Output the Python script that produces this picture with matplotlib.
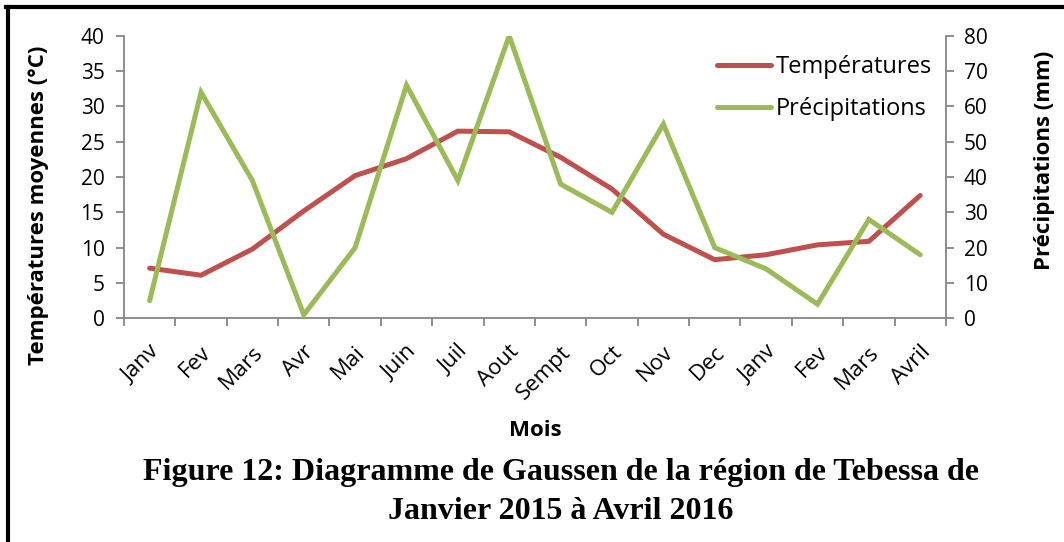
import matplotlib
matplotlib.use("Agg")
import matplotlib.pyplot as plt
from matplotlib.lines import Line2D
from matplotlib.transforms import ScaledTranslation
import numpy as np

# --- data ------------------------------------------------------------------
mois = ["Janv", "Fev", "Mars", "Avr", "Mai", "Juin", "Juil", "Aout", "Sempt",
        "Oct", "Nov", "Dec", "Janv", "Fev", "Mars", "Avril"]
temperatures = [7.1, 6.1, 9.8, 15.2, 20.2, 22.6, 26.5, 26.4, 22.8,
                18.3, 11.9, 8.3, 9.0, 10.4, 10.9, 17.4]
precipitations = [5, 64, 39, 1, 20, 66, 39, 80, 38,
                  30, 55, 20, 14, 4, 28, 18]

RED = "#C0504D"
GREEN = "#9BBB59"
AXC = "#868686"
FONT = "Open Sans"
TICK_FS = 15
LAB_FS = 16

plt.rcParams["font.family"] = [FONT, "DejaVu Sans"]

fig = plt.figure(figsize=(10.64, 5.42), dpi=100)
ax = fig.add_axes([0.1165, 0.4127, 0.7725, 0.5213])
ax2 = ax.twinx()

x = np.arange(len(mois))
l1, = ax.plot(x, temperatures, color=RED, lw=3.6, solid_capstyle="round",
              solid_joinstyle="miter", label="Températures")
l2, = ax2.plot(x, precipitations, color=GREEN, lw=3.6, solid_capstyle="round",
               solid_joinstyle="miter", label="Précipitations")
ax2.set_zorder(ax.get_zorder() + 1)
ax2.patch.set_visible(False)

ax.set_xlim(-0.5, len(mois) - 0.5)
ax.set_ylim(0, 40)
ax2.set_ylim(0, 80)
ax.set_yticks(np.arange(0, 41, 5))
ax2.set_yticks(np.arange(0, 81, 10))

# category boundaries get the tick marks, labels sit in the middle
ax.set_xticks(np.arange(-0.5, len(mois) + 0.5, 1))
ax.set_xticklabels([])
ax.set_xticks(x, minor=True)
ax.set_xticklabels(mois, minor=True, rotation=45, ha="right", va="center",
                   rotation_mode="anchor", fontsize=16)
ax.tick_params(axis="x", which="minor", length=0, pad=22)
ax.tick_params(axis="x", which="major", length=6, width=1.3, color=AXC)
shift = ScaledTranslation(0.07, 0, fig.dpi_scale_trans)
for lab in ax.get_xticklabels(minor=True):
    lab.set_transform(lab.get_transform() + shift)

for a in (ax, ax2):
    for s in a.spines.values():
        s.set_visible(False)
ax.spines["left"].set_visible(True)
ax.spines["bottom"].set_visible(True)
ax2.spines["right"].set_visible(True)
for s in (ax.spines["left"], ax.spines["bottom"], ax2.spines["right"]):
    s.set_color(AXC)
    s.set_linewidth(1.3)

ax.tick_params(axis="y", length=6, width=1.3, color=AXC, labelsize=TICK_FS, pad=8)
ax2.tick_params(axis="y", length=6, width=1.3, color=AXC, labelsize=TICK_FS, pad=7)

fig.text(0.036, 0.622, "Températures moyennes (°C)", rotation=90,
         ha="center", va="center", fontsize=LAB_FS, fontweight="bold")
fig.text(0.982, 0.705, "Précipitations (mm)", rotation=90,
         ha="center", va="center", fontsize=LAB_FS, fontweight="bold")
fig.text(0.503, 0.205, "Mois", ha="center", va="center",
         fontsize=LAB_FS, fontweight="bold")

leg = ax.legend(handles=[l1, l2], loc="upper right", bbox_to_anchor=(1.003, 0.99),
                frameon=False, fontsize=17, handlelength=2.3,
                handletextpad=0.2, labelspacing=0.75, borderpad=0.2)

cap = dict(ha="center", va="center", fontsize=23, fontweight="bold",
           family="Liberation Serif")
fig.text(0.527, 0.128, "Figure 12: Diagramme de Gaussen de la région de Tebessa de", **cap)
fig.text(0.527, 0.057, "Janvier 2015 à Avril 2016", **cap)

# frame of the original page crop (left and top edges)
fig.add_artist(Line2D([0.0075, 0.0075], [0, 0.988], color="black", lw=3,
                      transform=fig.transFigure))
fig.add_artist(Line2D([0.006, 1.0], [0.988, 0.988], color="black", lw=3,
                      transform=fig.transFigure))

fig.savefig("out.png", dpi=100)
